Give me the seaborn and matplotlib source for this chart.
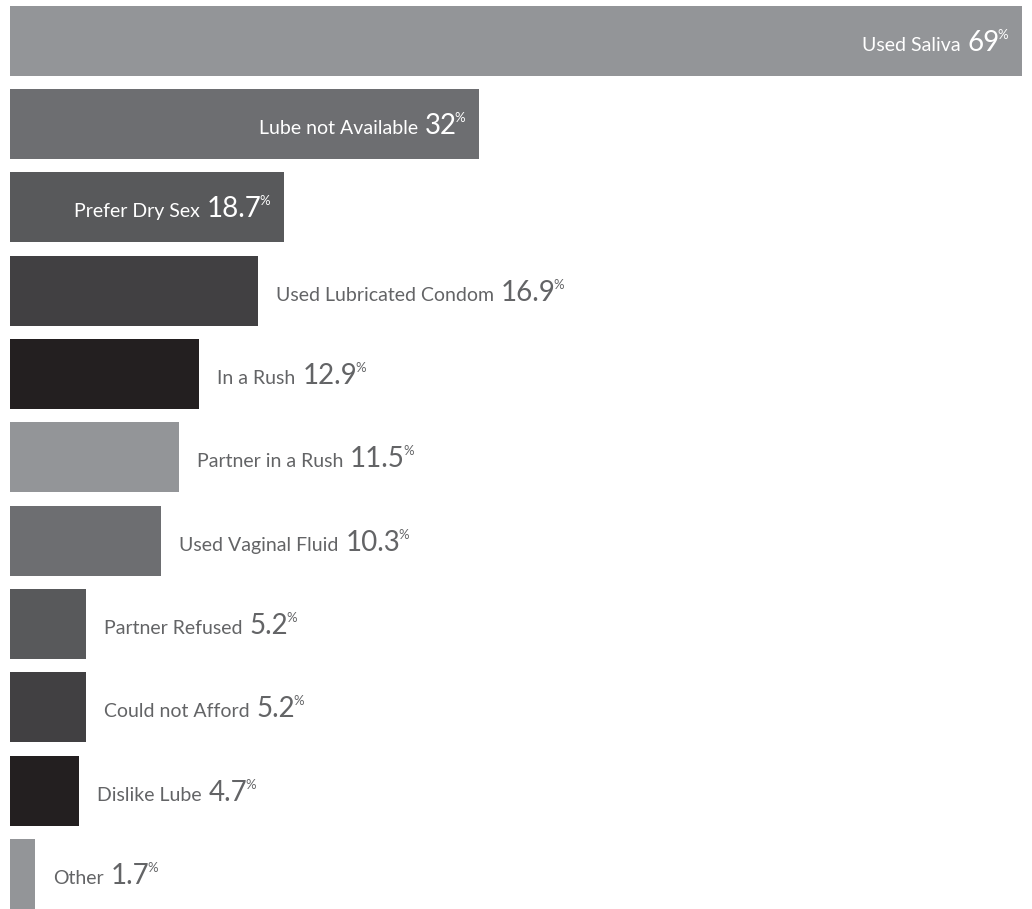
import matplotlib
matplotlib.use("Agg")
import matplotlib.pyplot as plt
from matplotlib.transforms import offset_copy
import seaborn as sns
import pandas as pd

labels = ["Used Saliva", "Lube not Available", "Prefer Dry Sex", "Used Lubricated Condom",
          "In a Rush", "Partner in a Rush", "Used Vaginal Fluid", "Partner Refused",
          "Could not Afford", "Dislike Lube", "Other"]
values = [69, 32, 18.7, 16.9, 12.9, 11.5, 10.3, 5.2, 5.2, 4.7, 1.7]
value_text = ["69", "32", "18.7", "16.9", "12.9", "11.5", "10.3", "5.2", "5.2", "4.7", "1.7"]
inside = [True, True, True, False, False, False, False, False, False, False, False]
cycle = ["#939598", "#6d6e71", "#58595b", "#414042", "#231f20"]
colors = [cycle[i % 5] for i in range(len(labels))]

df = pd.DataFrame({"label": labels, "value": values})

sns.set_theme(style="white")
plt.rcParams["font.family"] = ["Lato", "DejaVu Sans"]

DPI = 100
fig = plt.figure(figsize=(10.32, 9.09), dpi=DPI)
ax = fig.add_axes([0, 0, 1, 1])
sns.barplot(data=df, x="value", y="label", hue="label", palette=colors,
            legend=False, width=0.84, orient="h", saturation=1, ax=ax,
            linewidth=0, edgecolor="none")
k = (1022 - 10) / 69.0
ax.set_xlim(-10 / k, (1032 - 10) / k)
ax.set_ylim(10.42, -0.49)
ax.axis("off")

fig.canvas.draw()
renderer = fig.canvas.get_renderer()

NAME_FS, NUM_FS, PCT_FS = 14, 20, 9.5

def width_px(s, fs):
    t = fig.text(0, 0, s, fontsize=fs)
    w = t.get_window_extent(renderer).width
    t.remove()
    return w

for i, (lab, v, vt, ins) in enumerate(zip(labels, values, value_text, inside)):
    wn = width_px(lab, NAME_FS)
    wnum = width_px(vt, NUM_FS)
    wp = width_px("%", PCT_FS)
    gap1, gap2 = 7, -2
    total = wn + gap1 + wnum + gap2 + wp
    if ins:
        start = -14 - total
        col = "white"
    else:
        start = 18
        col = "#636466"
    x0 = start
    ax.text(v, i, lab, fontsize=NAME_FS, color=col, ha="left", va="baseline",
            transform=offset_copy(ax.transData, fig, x=x0, y=-10, units="dots"))
    x0 += wn + gap1
    ax.text(v, i, vt, fontsize=NUM_FS, color=col, ha="left", va="baseline",
            transform=offset_copy(ax.transData, fig, x=x0, y=-10, units="dots"))
    x0 += wnum + gap2
    ax.text(v, i, "%", fontsize=PCT_FS, color=col, ha="left", va="top",
            transform=offset_copy(ax.transData, fig, x=x0, y=12, units="dots"))

fig.savefig("out.png", dpi=DPI)
